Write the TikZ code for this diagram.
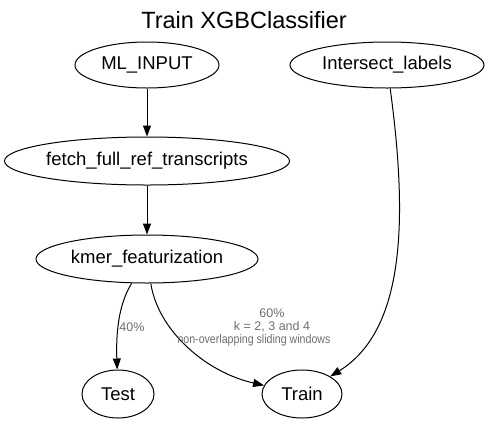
\documentclass[tikz,border=0pt]{standalone}
\usepackage{fontspec}
\usepackage{graphicx}
\setmainfont{Liberation Sans}
\usetikzlibrary{shapes.geometric,arrows.meta}
\definecolor{lblgray}{RGB}{110,110,110}
\tikzset{
  ell/.style={draw, ellipse, line width=1pt, inner sep=0pt, font=\fontsize{18.5}{20}\selectfont},
  edge/.style={line width=1pt, -{Triangle[length=11pt,width=8pt]}},
  lbl/.style={text=lblgray, inner sep=0pt, font=\fontsize{12.5}{13}\selectfont}
}
\begin{document}
\begin{tikzpicture}[x=1pt,y=-1pt]
\useasboundingbox (0,0) rectangle (489,424);
\node[font=\fontsize{23.5}{25}\selectfont] (title) at (244,20) {Train XGBClassifier};
\node[ell, minimum width=144pt, minimum height=46pt] (ml) at (147,65) {ML\_INPUT};
\node[ell, minimum width=194pt, minimum height=46pt] (inter) at (387,65) {Intersect\_labels};
\node[ell, minimum width=284pt, minimum height=48pt] (fetch) at (147,161) {fetch\_full\_ref\_transcripts};
\node[ell, minimum width=222pt, minimum height=48pt] (kmer) at (147,259) {kmer\_featurization};
\node[ell, minimum width=72pt, minimum height=48pt] (test) at (118,394) {Test};
\node[ell, minimum width=80pt, minimum height=48pt] (train) at (302,394) {Train};
\draw[edge] (ml) -- (fetch);
\draw[edge] (fetch) -- (kmer);
\draw[edge] (kmer) .. controls (118,305) and (116,335) .. (test);
\draw[edge] (kmer) .. controls (158,330) and (205,372) .. (train);
\draw[edge] (inter) .. controls (408,220) and (405,330) .. (train);
\node[lbl] (l40) at (132,327) {40\%};
\node[lbl] (l60a) at (272,313) {60\%};
\node[lbl] (l60b) at (272,327) {k = 2, 3 and 4};
\node[lbl] (l60c) at (254,340) {\scalebox{0.85}[1]{non-overlapping sliding windows}};
\end{tikzpicture}
\end{document}
